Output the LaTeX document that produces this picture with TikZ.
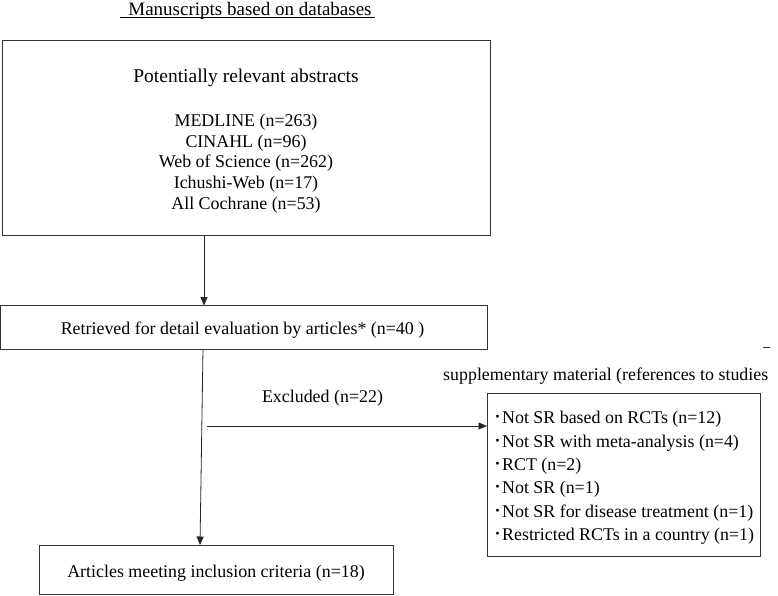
\documentclass[tikz,border=0pt]{standalone}
\usepackage{fontspec}
\setmainfont{Liberation Serif}
\newfontfamily\cjk{Noto Sans CJK JP}
\usetikzlibrary{arrows.meta}
\begin{document}
\begin{tikzpicture}[x=1pt,y=-1pt,
  box/.style={draw=black!80, line width=1pt},
  txt/.style={inner sep=0pt, anchor=base, font=\fontsize{17.9}{21}\selectfont},
  big/.style={inner sep=0pt, anchor=base, font=\fontsize{19.5}{23}\selectfont},
  conn/.style={draw=black!85, line width=0.8pt, -{Triangle[length=8.5pt,width=7pt]}},
  bul/.style={txt, anchor=base west}]
\useasboundingbox (0,0) rectangle (778,595);
% title
\node[big, font=\fontsize{19}{22}\selectfont, text height=11pt, text depth=3pt] (title) at (250,15) {Manuscripts based on databases};
\coordinate (ulA) at (120,17.5);
\coordinate (ulB) at (375,17.5);
\draw[black, line width=0.9pt] (ulA) -- (ulB);
% box 1
\draw[box] (2,40) rectangle (490,235);
\coordinate (b1s) at (204,235);
\node[big] (pot) at (246,82) {Potentially relevant abstracts};
\node[txt] (m1) at (246,126) {MEDLINE (n=263)};
\node[txt] (m2) at (246,147) {CINAHL (n=96)};
\node[txt] (m3) at (246,167) {Web of Science (n=262)};
\node[txt] (m4) at (246,188) {Ichushi-Web (n=17)};
\node[txt] (m5) at (246,209) {All Cochrane (n=53)};
% box 2
\draw[box] (0,305.5) rectangle (487,349);
\coordinate (b2n) at (204,305.5);
\coordinate (b2s) at (203,349);
\node[txt] (ret) at (242.5,334) {Retrieved for detail evaluation by articles* (n=40 )};
\draw[conn] (b1s) -- (b2n);
% dash
\coordinate (dA) at (763,347);
\coordinate (dB) at (770,347);
\draw[black!80, line width=1pt] (dA) -- (dB);
\node[txt, anchor=base west] (supp) at (443,380) {supplementary material (references to studies};
\node[txt] (excl) at (322.5,402) {Excluded (n=22)};
% box 3
\draw[box] (487,393) rectangle (760,556);
\coordinate (b3w) at (487,426);
\coordinate (split) at (207,426);
\node[bul] (e1) at (493,423) {{\cjk ･}Not SR based on RCTs (n=12)};
\node[bul] (e2) at (493,447) {{\cjk ･}Not SR with meta-analysis (n=4)};
\node[bul] (e3) at (493,470) {{\cjk ･}RCT (n=2)};
\node[bul] (e4) at (493,493) {{\cjk ･}Not SR (n=1)};
\node[bul] (e5) at (493,517) {{\cjk ･}Not SR for disease treatment (n=1)};
\node[bul] (e6) at (493,540) {{\cjk ･}Restricted RCTs in a country (n=1)};
% box 4
\draw[box] (39,545) rectangle (393,594);
\coordinate (b4n) at (200,545);
\node[txt] (art) at (216,577) {Articles meeting inclusion criteria (n=18)};
\draw[conn] (b2s) -- (b4n);
\draw[conn] (split) -- (b3w);
\end{tikzpicture}
\end{document}
